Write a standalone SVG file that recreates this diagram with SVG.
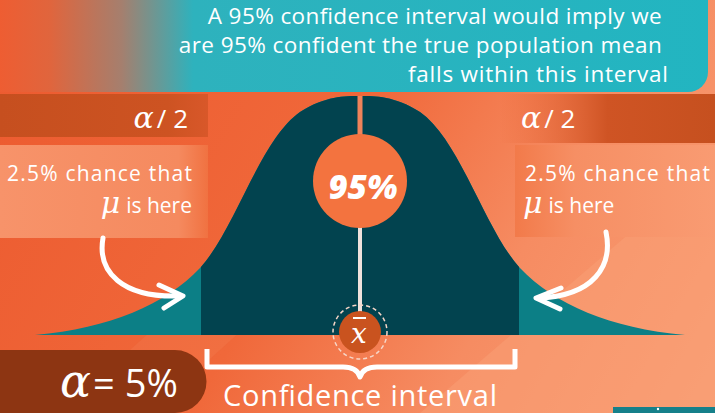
<svg xmlns="http://www.w3.org/2000/svg" width="715" height="413" viewBox="0 0 715 413">
<defs>
<linearGradient id="bg" x1="0" y1="0" x2="715" y2="413" gradientUnits="userSpaceOnUse">
<stop offset="0" stop-color="#ec5a2f"/>
<stop offset="0.45" stop-color="#f0683a"/>
<stop offset="0.7" stop-color="#f68c62"/>
<stop offset="1" stop-color="#f99e74"/>
</linearGradient>
<linearGradient id="banner" x1="0" y1="0" x2="715" y2="0" gradientUnits="userSpaceOnUse">
<stop offset="0" stop-color="#ee5d32"/>
<stop offset="0.07" stop-color="#e0653d"/>
<stop offset="0.17" stop-color="#a57f6e"/>
<stop offset="0.27" stop-color="#2eb2bd"/>
<stop offset="1" stop-color="#22b5c1"/>
</linearGradient>
<linearGradient id="barL" x1="0" y1="0" x2="210" y2="0" gradientUnits="userSpaceOnUse">
<stop offset="0" stop-color="#c64f1f"/>
<stop offset="0.8" stop-color="#cd5322"/>
<stop offset="1" stop-color="#d9582a"/>
</linearGradient>
<linearGradient id="barR" x1="500" y1="0" x2="715" y2="0" gradientUnits="userSpaceOnUse">
<stop offset="0" stop-color="#e8602f" stop-opacity="0"/>
<stop offset="0.5" stop-color="#cf5424"/>
<stop offset="1" stop-color="#c6501f"/>
</linearGradient>
<linearGradient id="bandL" x1="0" y1="0" x2="210" y2="0" gradientUnits="userSpaceOnUse">
<stop offset="0" stop-color="#f7936a"/>
<stop offset="0.85" stop-color="#f58a5f"/>
<stop offset="1" stop-color="#f0703f"/>
</linearGradient>
<linearGradient id="bandR" x1="515" y1="0" x2="715" y2="0" gradientUnits="userSpaceOnUse">
<stop offset="0" stop-color="#f27a4a"/>
<stop offset="0.3" stop-color="#f68f64"/>
<stop offset="1" stop-color="#f99b72"/>
</linearGradient>
<clipPath id="mid"><rect x="201" y="80" width="318" height="260"/></clipPath>
<style>
.t{font-family:"Open Sans","DejaVu Sans",sans-serif;fill:#ffffff}
.g{font-family:"DejaVu Serif","Liberation Serif",serif;font-style:italic;fill:#ffffff}
.arr{fill:none;stroke:#ffffff;stroke-width:5;stroke-linecap:round;stroke-linejoin:round}
</style>
</defs>

<rect width="715" height="413" fill="url(#bg)"/>
<polygon points="420,413 715,160 715,413" fill="#fa9f76" opacity="0.5"/>
<polygon points="60,413 330,170 420,170 150,413" fill="#f58256" opacity="0.25"/>

<g id="banner">
<rect x="-30" y="-30" width="738" height="122" rx="20" fill="url(#banner)"/>
<text class="t" font-size="22.5" text-anchor="end">
<tspan x="668" y="24" textLength="454">A 95% confidence interval would imply we</tspan>
<tspan x="668" y="53" textLength="483">are 95% confident the true population mean</tspan>
<tspan x="668" y="82" textLength="260">falls within this interval</tspan>
</text>
</g>

<g id="left-panel">
<rect x="0" y="94" width="208" height="43" fill="url(#barL)"/>
<rect x="0" y="145" width="208" height="93" fill="url(#bandL)"/>
<text x="188" y="128" text-anchor="end"><tspan class="g" font-size="30">α</tspan><tspan class="t" font-size="26" dx="3">/ 2</tspan></text>
<text class="t" x="192" y="181" font-size="21" text-anchor="end" textLength="185">2.5% chance that</text>
<text x="192" y="213" text-anchor="end"><tspan class="g" font-size="30">μ</tspan><tspan class="t" font-size="21" dx="6">is here</tspan></text>
</g>

<g id="right-panel">
<rect x="500" y="94" width="215" height="49" fill="url(#barR)"/>
<rect x="515" y="145" width="200" height="92" fill="url(#bandR)"/>
<text x="521" y="128"><tspan class="g" font-size="30">α</tspan><tspan class="t" font-size="26" dx="3">/ 2</tspan></text>
<text class="t" x="525" y="181" font-size="21" textLength="185">2.5% chance that</text>
<text x="523" y="213"><tspan class="g" font-size="30">μ</tspan><tspan class="t" font-size="21" dx="6">is here</tspan></text>
</g>

<g id="curve">
<path d="M35,335 C110,328 165,305 200,268 C235,230 260,140 300,112 C325,96 345,96 360,96 C375,96 395,96 420,112 C460,140 485,230 520,268 C555,305 610,328 685,335 Z" fill="#0c7f86"/>
<path d="M35,335 C110,328 165,305 200,268 C235,230 260,140 300,112 C325,96 345,96 360,96 C375,96 395,96 420,112 C460,140 485,230 520,268 C555,305 610,328 685,335 Z" fill="#02434f" clip-path="url(#mid)"/>
</g>

<g id="center-line">
<line x1="360" y1="96" x2="360" y2="140" stroke="#f0835a" stroke-width="5"/>
<line x1="360" y1="225" x2="360" y2="312" stroke="#f1e2dc" stroke-width="4"/>
</g>

<g id="node-95">
<circle cx="360" cy="181" r="47" fill="#f3733f"/>
<text x="363" y="199" font-family="'Open Sans','DejaVu Sans',sans-serif" font-weight="800" font-style="italic" font-size="33" fill="#ffffff" text-anchor="middle">95%</text>
</g>

<g id="node-xbar">
<circle cx="360" cy="332" r="27" fill="none" stroke="#f6d6c8" stroke-width="1.5" stroke-dasharray="4 3"/>
<circle cx="360" cy="332" r="21" fill="#c9531f"/>
<line x1="353" y1="318" x2="366" y2="318" stroke="#ffffff" stroke-width="2"/>
<text class="g" x="359" y="343" font-size="28" text-anchor="middle">x</text>
</g>

<g id="connectors">
<path class="arr" d="M103,238 C97,272 122,298 180,296"/>
<path class="arr" d="M159,285 L183,296 L164,308"/>
<path class="arr" d="M606,232 C613,266 594,296 538,298"/>
<path class="arr" d="M561,288 L536,298 L560,309"/>
<path d="M207,349 L207,367 L343,367 Q357,367 360,377 Q363,367 377,367 L515,367 L515,349" fill="none" stroke="#ffffff" stroke-width="5" stroke-linejoin="round"/>
</g>

<g id="ci-label">
<text class="t" x="360" y="406" font-size="29" text-anchor="middle" textLength="274">Confidence interval</text>
</g>

<g id="alpha-box">
<path d="M-10,350 L175,350 A31,31 0 0 1 175,413 L-10,413 Z" fill="#8d3512"/>
<text x="60" y="397"><tspan class="g" font-size="46">α</tspan><tspan class="t" font-size="38" dx="2">= 5%</tspan></text>
</g>

<rect x="613" y="407" width="102" height="6" fill="#16808a"/>
<circle cx="658" cy="409" r="1.2" fill="#ffffff"/>
</svg>
